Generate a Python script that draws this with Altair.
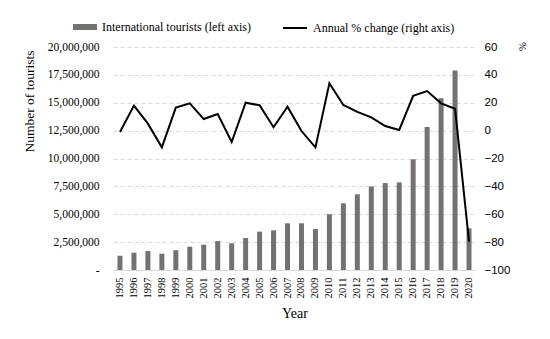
import altair as alt
import pandas as pd

years = ["1995", "1996", "1997", "1998", "1999", "2000", "2001", "2002", "2003",
         "2004", "2005", "2006", "2007", "2008", "2009", "2010", "2011", "2012",
         "2013", "2014", "2015", "2016", "2017", "2018", "2019", "2020"]
tourists = [1280000, 1550000, 1700000, 1460000, 1770000, 2090000, 2270000,
            2600000, 2390000, 2870000, 3440000, 3560000, 4190000, 4190000,
            3680000, 5000000, 5980000, 6790000, 7500000, 7800000, 7860000,
            9930000, 12830000, 15400000, 17900000, 3740000]
pct_change = [-1, 18, 5, -12, 16.5, 19.6, 8.3, 11.9, -8.2, 20, 18.2, 2.4, 17.2,
              -0.3, -12, 34, 18.4, 13.4, 9.5, 3.3, 0.5, 25, 28.4, 19.6, 15.7, -79.7]
left_ticks = [0, 2500000, 5000000, 7500000, 10000000, 12500000, 15000000,
              17500000, 20000000]
right_ticks = [-100, -80, -60, -40, -20, 0, 20, 40, 60]
bar_label = "International tourists (left axis)"
line_label = "Annual % change (right axis)"

SERIF = "Liberation Serif"
SANS = "Liberation Sans"

df = pd.DataFrame({"Year": years, "Tourists": tourists, "Change": pct_change,
                   "s1": [bar_label] * len(years), "s2": [line_label] * len(years)})

xenc = alt.X(
    "Year:O",
    scale=alt.Scale(paddingInner=0, paddingOuter=0),
    axis=alt.Axis(
        title="Year", titleFont=SERIF, titleFontSize=14, titleFontWeight="normal",
        titleColor="black", titlePadding=8,
        labelAngle=270, labelFont=SERIF, labelFontSize=10.5, labelColor="black",
        labelPadding=7, labelOverlap=False, ticks=False, grid=False,
        domainColor="#d9d9d9", domainWidth=1,
    ),
)

bars = alt.Chart(df).mark_bar(size=5).encode(
    x=xenc,
    y=alt.Y(
        "Tourists:Q",
        scale=alt.Scale(domain=[0, 20000000], nice=False, zero=True),
        axis=alt.Axis(
            title="Number of tourists", titleFont=SERIF, titleFontSize=13.5,
            titleFontWeight="normal", titleColor="black",
            titleX=-84, titleY=54, titleAngle=270, titleAlign="center",
            titleBaseline="middle",
            values=left_ticks,
            labelExpr="datum.value == 0 ? '-' : format(datum.value, ',')",
            labelFont=SERIF, labelFontSize=11.5, labelColor="black",
            labelPadding=14, ticks=False, domain=False,
            grid=True, gridDash=[4, 3], gridColor="#d9d9d9", gridWidth=1,
        ),
    ),
    fill=alt.Fill(
        "s1:N",
        scale=alt.Scale(range=["#767171"]),
        legend=alt.Legend(
            title=None, orient="none", legendX=-40, legendY=-32, padding=0,
            symbolType="M-1,-0.25H1V0.25H-1Z", symbolSize=576,
            symbolStrokeWidth=0, labelFont=SERIF, labelFontSize=12,
            labelColor="black", labelOffset=5,
        ),
    ),
)

line = alt.Chart(df).mark_line(strokeWidth=2).encode(
    x=alt.X("Year:O"),
    y=alt.Y(
        "Change:Q",
        scale=alt.Scale(domain=[-100, 60], nice=False, zero=False),
        axis=alt.Axis(
            orient="right", title="%", titleFont=SERIF, titleFontSize=11,
            titleFontWeight="normal", titleColor="black",
            titleX=45, titleY=-1, titleAlign="center", titleBaseline="middle",
            values=right_ticks, labelFont=SANS, labelFontSize=11.5,
            labelColor="black", labelPadding=8, ticks=False, domain=False,
            grid=False,
        ),
    ),
    stroke=alt.Stroke(
        "s2:N",
        scale=alt.Scale(range=["black"]),
        legend=alt.Legend(
            title=None, orient="none", legendX=169, legendY=-32, padding=0,
            symbolSize=576, symbolStrokeWidth=2, labelFont=SERIF,
            labelFontSize=12, labelColor="black", labelOffset=5,
        ),
    ),
)

chart = alt.layer(bars, line).resolve_scale(y="independent").properties(
    width=363, height=223,
    autosize=alt.AutoSizeParams(type="none"),
    padding={"left": 105, "top": 39, "right": 60, "bottom": 60},
    background="white",
).configure_view(stroke=None)

chart.save("out.html", embed_options={"renderer": "svg", "actions": False})
